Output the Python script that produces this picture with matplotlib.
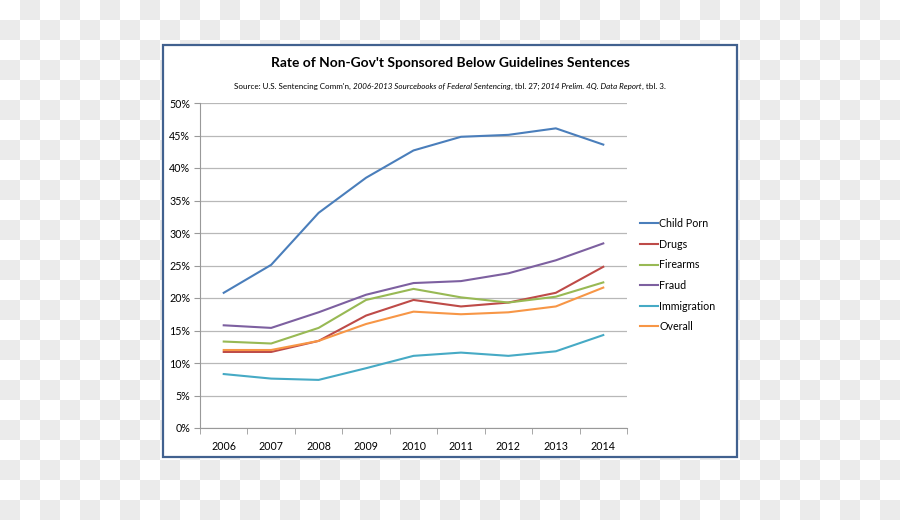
import numpy as np
import matplotlib
matplotlib.use("Agg")
import matplotlib.pyplot as plt
from matplotlib.patches import Rectangle

plt.rcParams['font.family'] = ['Lato', 'DejaVu Sans']

years = ['2006', '2007', '2008', '2009', '2010', '2011', '2012', '2013', '2014']
child_porn = [20.8, 25.1, 33.1, 38.5, 42.7, 44.8, 45.1, 46.1, 43.6]
drugs = [11.7, 11.7, 13.4, 17.3, 19.7, 18.7, 19.3, 20.8, 24.8]
firearms = [13.3, 13.0, 15.4, 19.7, 21.4, 20.1, 19.3, 20.2, 22.4]
fraud = [15.8, 15.4, 17.8, 20.5, 22.3, 22.6, 23.8, 25.8, 28.4]
immigration = [8.3, 7.6, 7.4, 9.2, 11.1, 11.6, 11.1, 11.8, 14.3]
overall = [12.0, 12.0, 13.4, 16.0, 17.9, 17.5, 17.8, 18.7, 21.6]

series = [
    ('Child Porn', child_porn, '#4a7ebb'),
    ('Drugs', drugs, '#be4b48'),
    ('Firearms', firearms, '#98b954'),
    ('Fraud', fraud, '#7d60a0'),
    ('Immigration', immigration, '#46aac5'),
    ('Overall', overall, '#f79646'),
]

W, H = 900, 520
fig = plt.figure(figsize=(9, 5.2), dpi=100)

# checkerboard backdrop
yy, xx = np.mgrid[0:H, 0:W]
check = ((xx // 20) + (yy // 20)) % 2
bg = np.where(check[..., None] == 1, 0.925, 1.0) * np.ones((H, W, 3))
fig.figimage(bg, xo=0, yo=0, origin='upper', zorder=0)

# chart frame
fig.patches.append(Rectangle((163 / W, 1 - 457 / H), (737 - 163) / W, (457 - 45) / H,
                             transform=fig.transFigure, facecolor='white',
                             edgecolor='#41618f', linewidth=1.6, zorder=1))

ax = fig.add_axes([200 / W, 1 - 428 / H, (627 - 200) / W, (428 - 103) / H])
ax.set_facecolor('none')
ax.set_zorder(2)

x = np.arange(len(years))
for name, vals, col in series:
    ax.plot(x, vals, color=col, lw=1.5, label=name)

ax.set_xlim(-0.5, len(years) - 0.5)
ax.set_ylim(0, 50)
ax.set_yticks(np.arange(0, 51, 5))
ax.set_yticklabels([f'{v}%' for v in range(0, 51, 5)])
ax.yaxis.grid(True, color='#b8b8b8', lw=0.9)
ax.set_axisbelow(True)
ax.set_xticks(x)
ax.set_xticklabels(years)
ax.set_xticks(np.arange(-0.5, len(years), 1), minor=True)
ax.tick_params(axis='x', which='major', length=0, pad=9, labelsize=7.7)
ax.tick_params(axis='x', which='minor', length=4, color='#999999', direction='out')
ax.tick_params(axis='y', length=4, color='#999999', labelsize=7.7, pad=3)
for s in ['top', 'right']:
    ax.spines[s].set_visible(False)
ax.spines['left'].set_color('#999999')
ax.spines['bottom'].set_color('#999999')

ax.legend(loc='upper left', bbox_to_anchor=(640 / W, 1 - 218 / H),
          bbox_transform=fig.transFigure, frameon=False, fontsize=7.7,
          handlelength=1.7, handletextpad=0.1, labelspacing=0.9,
          borderaxespad=0, borderpad=0)

fig.text(0.5, 1 - 63 / H, "Rate of Non-Gov't Sponsored Below Guidelines Sentences",
         ha='center', va='center', fontsize=9.9, fontweight='bold', zorder=3)

# subtitle with italic parts, laid out piece by piece
parts = [
    ("Source: U.S. Sentencing Comm'n, ", 'normal'),
    ("2006-2013 Sourcebooks of Federal Sentencing", 'italic'),
    (", tbl. 27; ", 'normal'),
    ("2014 Prelim. 4Q. Data Report", 'italic'),
    (", tbl. 3.", 'normal'),
]
r = fig.canvas.get_renderer()
texts = [fig.text(0, 1 - 86 / H, s, style=st, fontsize=5.75, va='center', zorder=3)
         for s, st in parts]
widths = [t.get_window_extent(r).width for t in texts]
xpos = 450 - sum(widths) / 2
for t, w in zip(texts, widths):
    t.set_x(xpos / W)
    xpos += w

fig.savefig('out.png', dpi=100)
